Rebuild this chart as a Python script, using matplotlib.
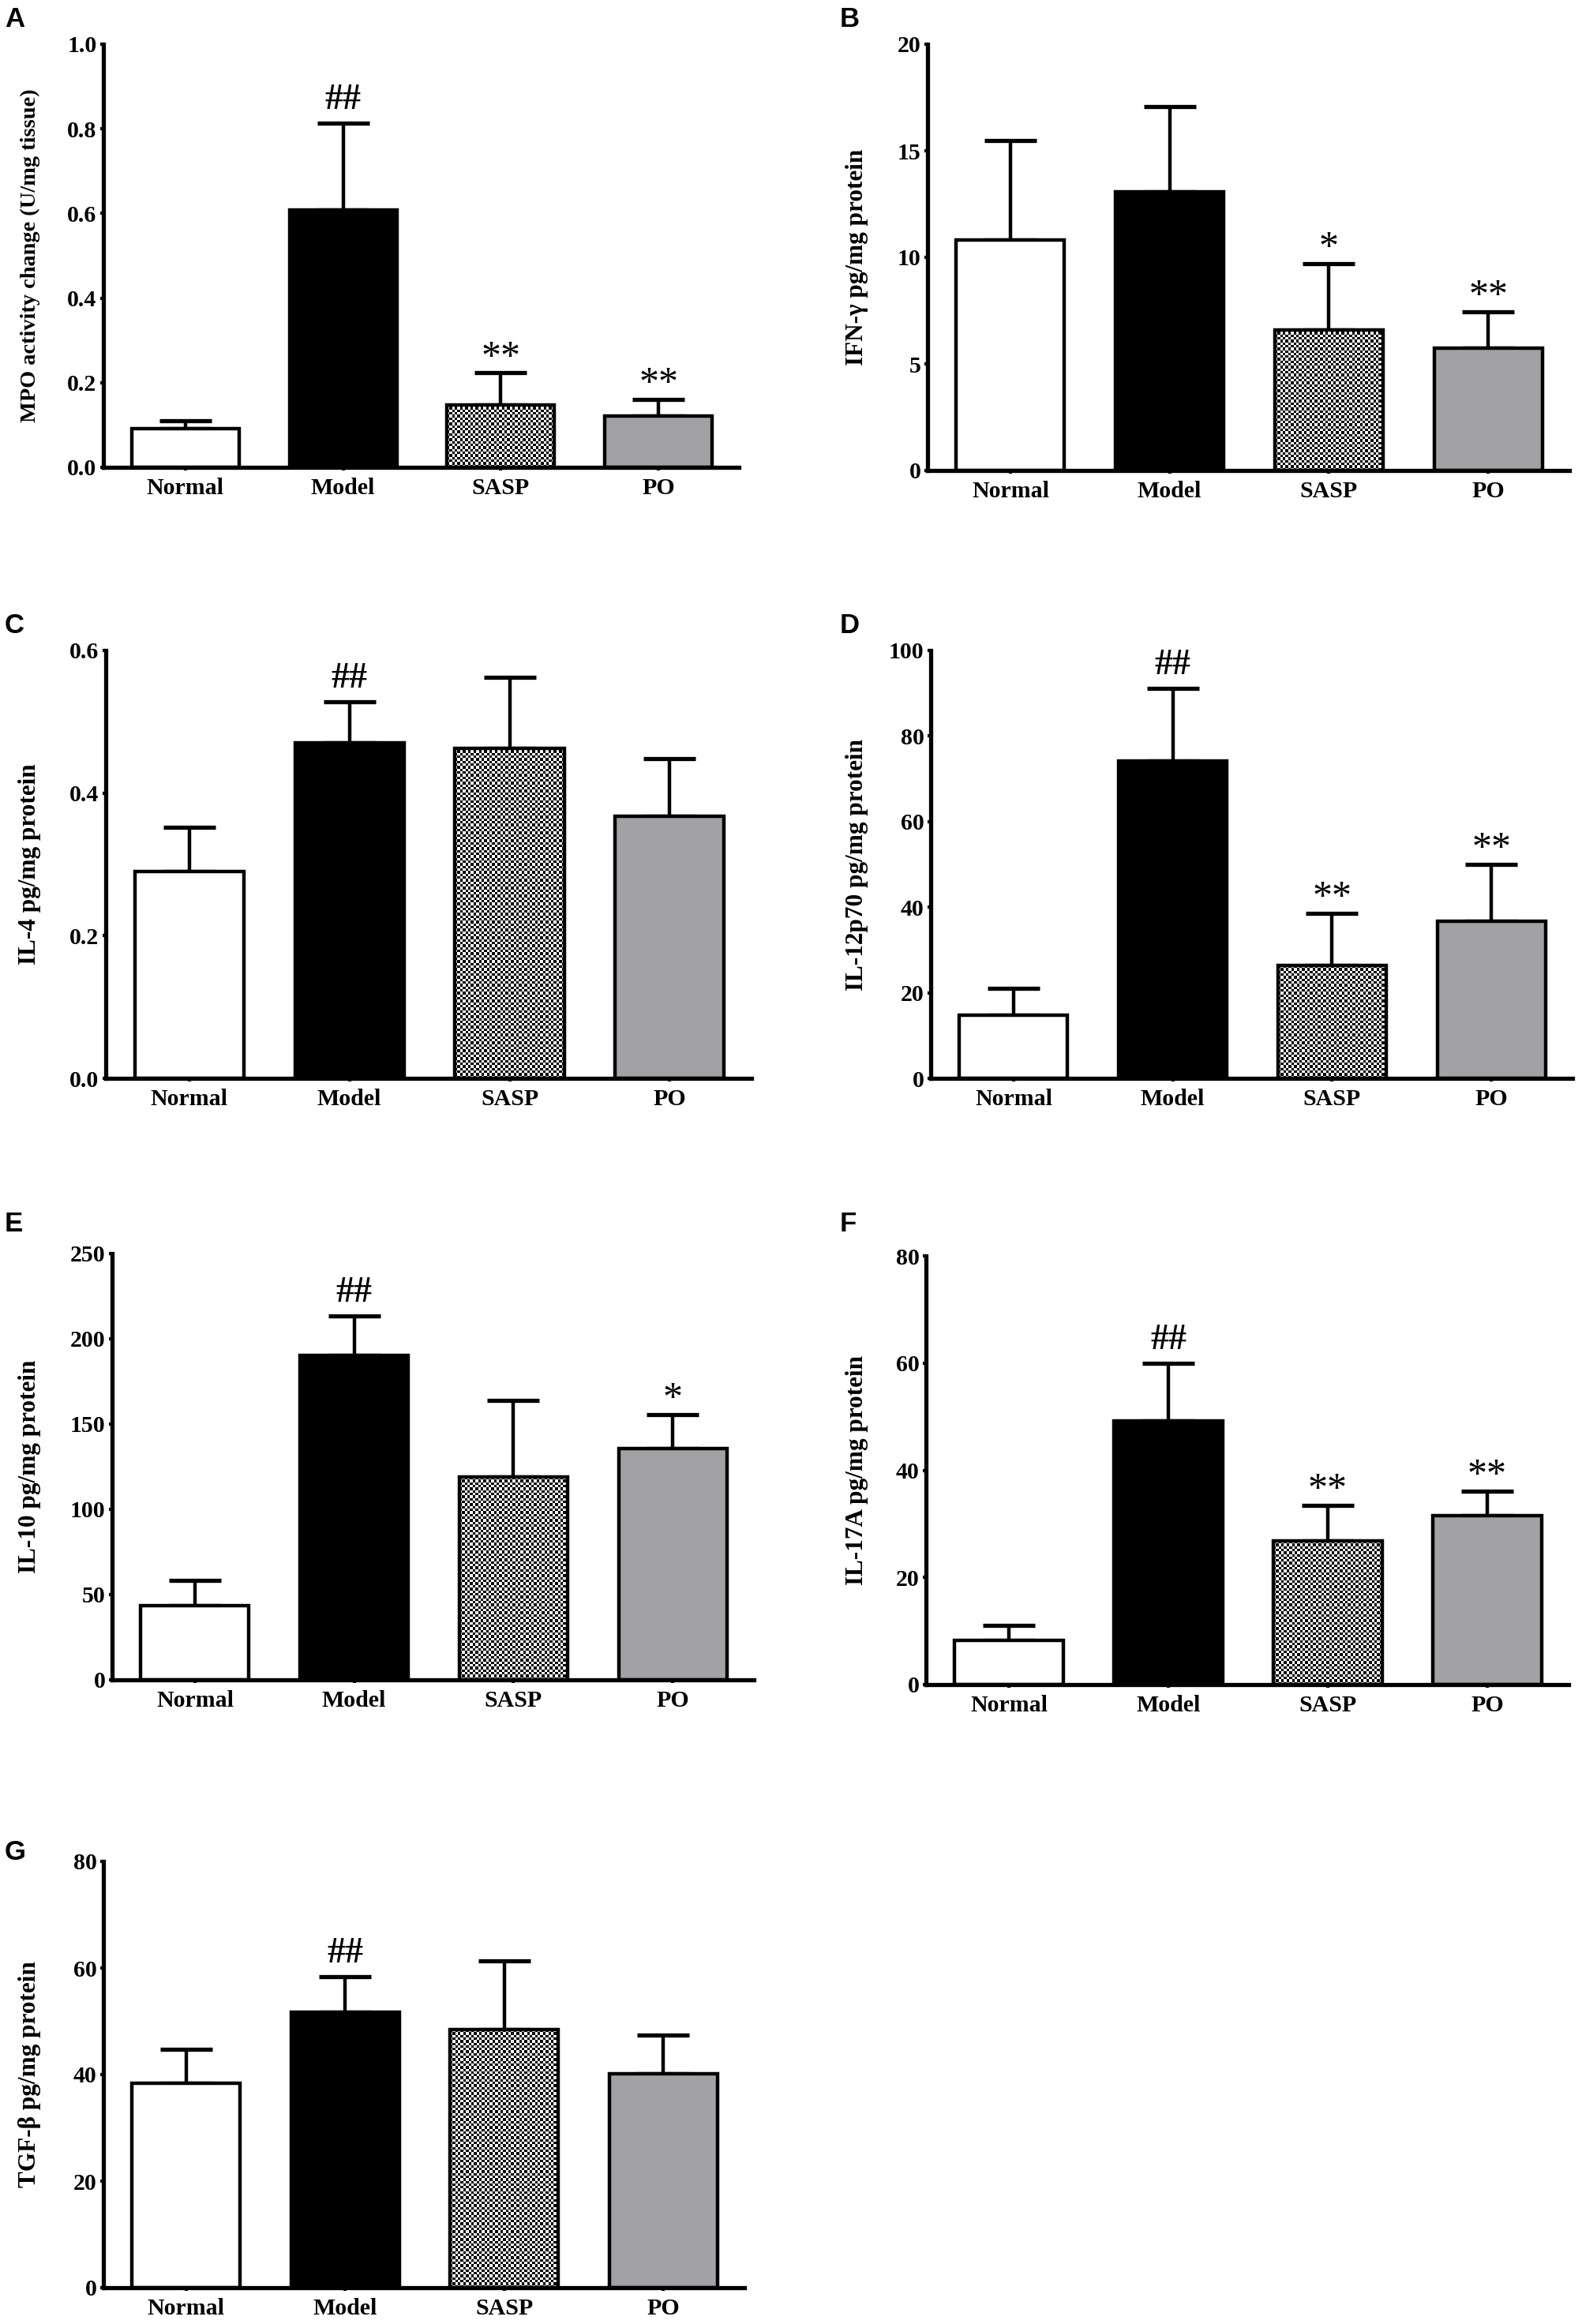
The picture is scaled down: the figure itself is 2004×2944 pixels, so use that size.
import numpy as np
import matplotlib
matplotlib.use('Agg')
import matplotlib.pyplot as plt

plt.rcParams['font.family'] = ['Liberation Serif', 'DejaVu Serif']

# Groups shown on every panel
groups = ['Normal', 'Model', 'SASP', 'PO']

# Panel A - MPO activity
mpo_mean = [0.091, 0.609, 0.148, 0.121]
mpo_err = [0.019, 0.204, 0.075, 0.039]
mpo_marks = ['', '##', '**', '**']

# Panel B - IFN-gamma
ifn_mean = [10.83, 13.09, 6.61, 5.75]
ifn_err = [4.67, 3.98, 3.09, 1.70]
ifn_marks = ['', '', '*', '**']

# Panel C - IL-4
il4_mean = [0.290, 0.471, 0.463, 0.368]
il4_err = [0.062, 0.057, 0.099, 0.080]
il4_marks = ['', '##', '', '']

# Panel D - IL-12p70
il12_mean = [14.7, 74.1, 26.3, 36.7]
il12_err = [6.3, 17.0, 12.2, 13.3]
il12_marks = ['', '##', '**', '**']

# Panel E - IL-10
il10_mean = [43.4, 190.5, 118.9, 135.8]
il10_err = [15.0, 22.8, 44.8, 19.6]
il10_marks = ['', '##', '', '*']

# Panel F - IL-17A
il17_mean = [8.2, 49.2, 26.8, 31.6]
il17_err = [2.8, 10.8, 6.6, 4.5]
il17_marks = ['', '##', '**', '**']

# Panel G - TGF-beta
tgf_mean = [38.3, 51.7, 48.4, 40.2]
tgf_err = [6.5, 6.7, 12.9, 7.2]
tgf_marks = ['', '##', '', '']

W, H = 2004, 2944
fig = plt.figure(figsize=(W / 100, H / 100), dpi=100)

face = ['white', 'black', 'none', '#a2a2a6']


def add_px_axes(x0, y0, x1, y1):
    return fig.add_axes([x0 / W, 1 - y1 / H, (x1 - x0) / W, (y1 - y0) / H])


def draw_panel(box, means, errs, marks, ylabel, ymax, ystep, fmt,
               letter, letter_y, label_x, label_size=22.5):
    ax = add_px_axes(*box)
    x = np.arange(len(groups))
    bars = ax.bar(x, means, width=0.68, color=face, edgecolor='black',
                  linewidth=3.2, zorder=2)
    ax.errorbar(x, means, yerr=[np.zeros(len(errs)), errs], fmt='none',
                ecolor='black', elinewidth=3.2, capsize=23.5, capthick=3.8,
                zorder=1)

    ax.set_xlim(-0.52, 3.51)
    ax.set_ylim(0, ymax)
    ax.set_yticks(np.arange(0, ymax + ystep / 2, ystep))
    ax.set_yticklabels([fmt % v for v in np.arange(0, ymax + ystep / 2, ystep)])
    ax.set_xticks(x)
    ax.set_xticklabels(groups)
    for lab in ax.get_xticklabels() + ax.get_yticklabels():
        lab.set_fontweight('bold')
        lab.set_fontsize(21.5)
    ax.tick_params(axis='both', length=3.2, width=3.0, color='black')
    ax.tick_params(axis='x', pad=6)
    ax.tick_params(axis='y', pad=3)
    for s in ['top', 'right']:
        ax.spines[s].set_visible(False)
    for s in ['left', 'bottom']:
        ax.spines[s].set_linewidth(3.8)
        ax.spines[s].set_zorder(3)

    # checkerboard fill for the SASP bar
    b = bars[2]
    p0 = ax.transData.transform((b.get_x(), 0))
    p1 = ax.transData.transform((b.get_x() + b.get_width(), b.get_height()))
    nx = max(int(abs(p1[0] - p0[0]) / 3.3), 2)
    ny = max(int(abs(p1[1] - p0[1]) / 3.3), 2)
    board = np.add.outer(np.arange(ny), np.arange(nx)) % 2
    ax.imshow(board, cmap='gray', aspect='auto', interpolation='nearest',
              extent=[b.get_x(), b.get_x() + b.get_width(), 0, b.get_height()],
              zorder=1.5, clip_path=b)
    ax.set_xlim(-0.52, 3.51)
    ax.set_ylim(0, ymax)

    for i, m in enumerate(marks):
        if not m:
            continue
        if '#' in m:
            ax.annotate(m, xy=(i, means[i] + errs[i]), xytext=(0, 13),
                        textcoords='offset points', ha='center', va='baseline',
                        fontsize=33, fontweight='bold')
        else:
            ax.annotate(m, xy=(i, means[i] + errs[i]), xytext=(0, 5),
                        textcoords='offset points', ha='center', va='baseline',
                        fontsize=36)

    y_mid = (box[1] + box[3]) / 2
    fig.text(label_x / W, 1 - y_mid / H, ylabel, rotation=90, ha='center',
             va='center', fontsize=label_size, fontweight='bold')
    fig.text(label_x / W - 32 / W if label_x < 500 else 1064 / W,
             1 - letter_y / H, letter, ha='left', va='top',
             fontsize=25, fontweight='bold', family='Liberation Sans')
    return ax


draw_panel((131, 56, 936, 592), mpo_mean, mpo_err, mpo_marks,
           'MPO activity change (U/mg tissue)', 1.0, 0.2, '%.1f',
           'A', 8, 38, label_size=20.4)
draw_panel((1175, 56, 1988, 596), ifn_mean, ifn_err, ifn_marks,
           'IFN-γ pg/mg protein', 20, 5, '%d', 'B', 8, 1086)
draw_panel((134, 824, 952, 1366), il4_mean, il4_err, il4_marks,
           'IL-4 pg/mg protein', 0.6, 0.2, '%.1f', 'C', 776, 38)
draw_panel((1179, 824, 1992, 1366), il12_mean, il12_err, il12_marks,
           'IL-12p70 pg/mg protein', 100, 20, '%d', 'D', 776, 1086)
draw_panel((142, 1588, 955, 2128), il10_mean, il10_err, il10_marks,
           'IL-10 pg/mg protein', 250, 50, '%d', 'E', 1534, 38)
draw_panel((1173, 1591, 1987, 2134), il17_mean, il17_err, il17_marks,
           'IL-17A pg/mg protein', 80, 20, '%d', 'F', 1534, 1086)
draw_panel((131, 2358, 943, 2898), tgf_mean, tgf_err, tgf_marks,
           'TGF-β pg/mg protein', 80, 20, '%d', 'G', 2330, 38)

fig.savefig('out.png', dpi=100, facecolor='white')
